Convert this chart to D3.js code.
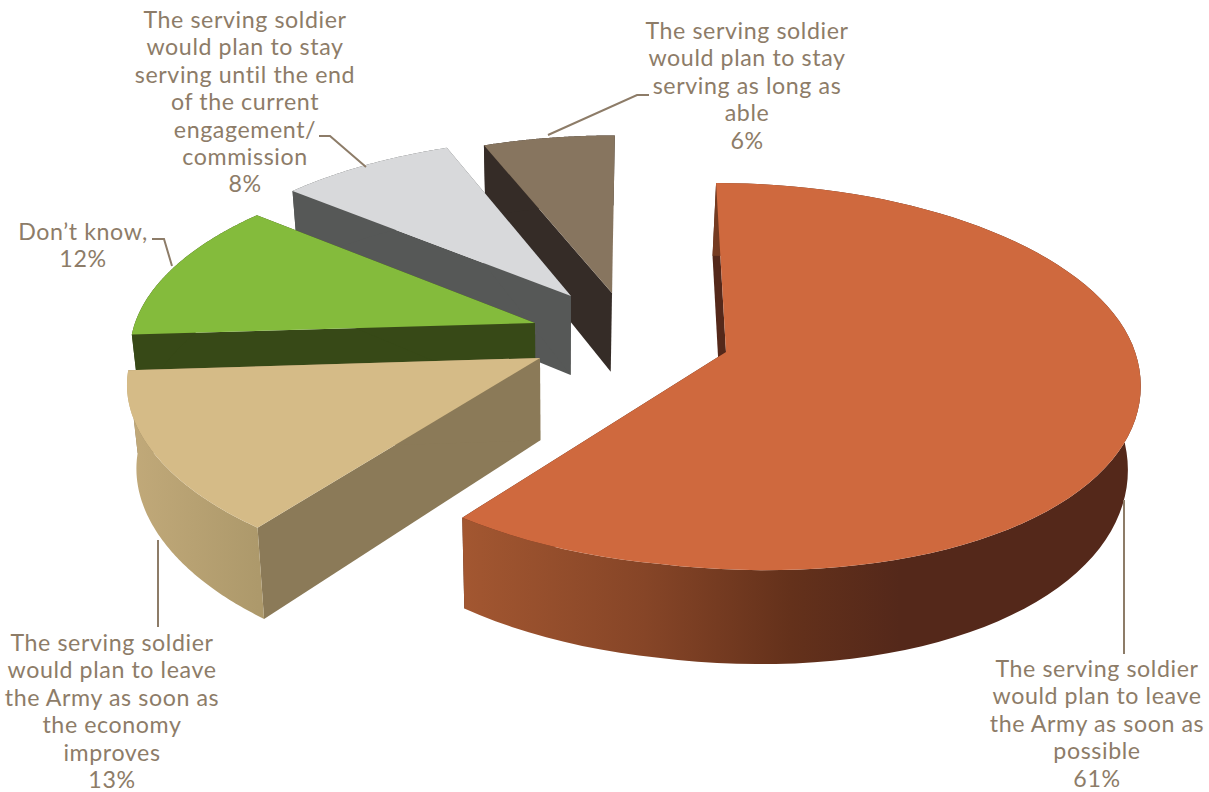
<!DOCTYPE html>
<html>
<head>
<meta charset="utf-8">
<script src="https://d3js.org/d3.v7.min.js"></script>
<style>
html,body{margin:0;padding:0;background:#fff}
text{font-family:Lato,sans-serif;font-size:23.2px;fill:#8d7c68;text-anchor:middle;letter-spacing:.6px}
</style>
</head>
<body>
<svg id="chart" width="1209" height="792"></svg>
<script>
// Share of responses for each answer, clockwise from twelve o'clock
const shares = [61, 13, 12, 8, 6];
const labelLines = [
  ["The serving soldier", "would plan to leave", "the Army as soon as", "possible", "61%"],
  ["The serving soldier", "would plan to leave", "the Army as soon as", "the economy", "improves", "13%"],
  ["Don\u2019t know,", "12%"],
  ["The serving soldier", "would plan to stay", "serving until the end", "of the current", "engagement/", "commission", "8%"],
  ["The serving soldier", "would plan to stay", "serving as long as", "able", "6%"]
];
const topColours = ["#cf693e", "#d5bb87", "#84bb3c", "#d8d9db", "#87755f"];
const sideColours = ["#54281a", "#8b7a58", "#374917", "#565857", "#352c27"];

// Layout of the exploded slices, in units of the pie radius on the ground plane
const sliceCentres = [[0.2136, 0], [-0.237, 0.031], [-0.255, -0.154], [-0.169, -0.303], [-0.0657, -0.32]];
const sliceRadii = [0.993, 0.988, 0.99, 1, 1];
// Text placement: centre x and first-line y of each label
const labelAnchors = [[1097, 669], [112, 643], [83, 232], [245, 20], [747, 31]];
// Leader lines
const leaders = [
  [[1124, 500], [1124, 654]],
  [[158, 540], [158, 627]],
  [[152, 239], [164, 239], [172, 266]],
  [[319, 136], [330, 136], [366, 167]],
  [[548, 135], [637, 95], [649, 95]]
];

// Perspective camera parameters; the near-side terms bend the rim toward the viewer's right
const cam = {y0: 352, vx: 638, bx: 412, ay: 191.8, k: 0.128, depth: 82, cx: 555, cs: 0.978, nearX: 27, nearY: 12};

function project(X, Y, low) {
  const w = 1 - cam.k * Y;
  const near = Math.max(Y, 0);
  let x = cam.vx + cam.bx * X / w + cam.nearX * near * near;
  let y = cam.y0 + cam.ay * Y / w + cam.nearY * near * near * Math.max(-X, 0);
  if (low) {
    x = cam.cx + (x - cam.cx) * cam.cs;
    y += cam.depth / w;
  }
  return [x, y];
}

const svg = d3.select("#chart");
const defs = svg.append("defs");

const mainGrad = defs.append("linearGradient").attr("id", "wall0")
  .attr("gradientUnits", "userSpaceOnUse").attr("x1", 461).attr("x2", 900).attr("y1", 0).attr("y2", 0);
[[0, "#a35731"], [0.42, "#864527"], [0.75, "#64311b"], [1, "#54281a"]].forEach(s =>
  mainGrad.append("stop").attr("offset", s[0]).attr("stop-color", s[1]));
const tanGrad = defs.append("linearGradient").attr("id", "wall1")
  .attr("gradientUnits", "userSpaceOnUse").attr("x1", 125).attr("x2", 258).attr("y1", 0).attr("y2", 0);
[[0, "#c2aa7a"], [1, "#ad996b"]].forEach(s =>
  tanGrad.append("stop").attr("offset", s[0]).attr("stop-color", s[1]));

const arcs = d3.pie().sort(null).value(d => d)(shares);
const path = d3.line();

function rim(a, centre, radius, low) {
  const n = 90;
  return d3.range(n + 1).map(i => {
    const t = a.startAngle + (a.endAngle - a.startAngle) * i / n;
    return project(centre[0] + radius * Math.sin(t), centre[1] - radius * Math.cos(t), low);
  });
}

// Paint from the back of the scene to the front so that nearer tops cover farther walls
const order = [4, 3, 2, 1, 0];
order.forEach(i => {
  const a = arcs[i], c = sliceCentres[i], r = sliceRadii[i];
  const g = svg.append("g").attr("class", "slice");
  const upper = rim(a, c, r, false), lower = rim(a, c, r, true);
  const apexTop = project(c[0], c[1], false), apexLow = project(c[0], c[1], true);
  const wallEnds = [
    [apexTop, upper[0], lower[0], apexLow],
    [apexTop, upper[upper.length - 1], lower[lower.length - 1], apexLow]
  ];
  wallEnds.forEach(p => g.append("path").attr("d", path(p) + "Z").attr("fill", sideColours[i]));
  const outerFill = i < 2 ? `url(#wall${i})` : sideColours[i];
  g.append("path").attr("d", path(upper.concat(lower.slice().reverse())) + "Z").attr("fill", outerFill);
  g.append("path").attr("d", path([apexTop].concat(upper)) + "Z").attr("fill", topColours[i]);
});

svg.append("g").selectAll("path").data(leaders).join("path")
  .attr("d", d => path(d)).attr("fill", "none").attr("stroke", "#8d7c68").attr("stroke-width", 2);

const LINE_STEP = 27.4;
labelLines.forEach((lines, i) => {
  const t = svg.append("text");
  lines.forEach((s, j) => t.append("tspan")
    .attr("x", labelAnchors[i][0])
    .attr("y", labelAnchors[i][1] + j * LINE_STEP + 8)
    .text(s));
});
</script>
</body>
</html>
